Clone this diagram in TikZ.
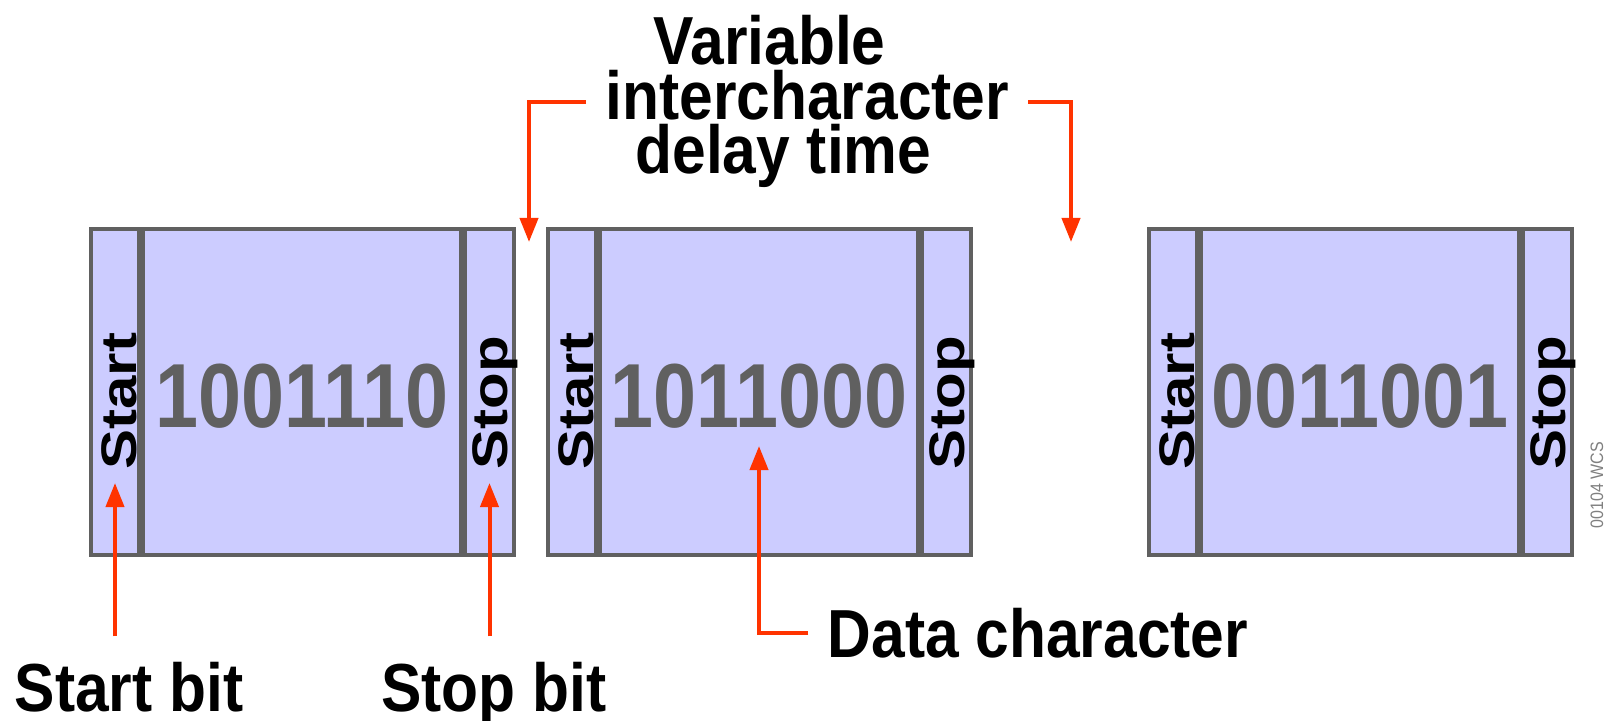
\documentclass[tikz,border=0pt]{standalone}
\usepackage{fontspec}
\usepackage{tikz}
\usetikzlibrary{positioning}
\usetikzlibrary{positioning, arrows.meta}

\newfontfamily\labelfont[FakeStretch=0.89]{Liberation Sans}
\newfontfamily\cellfont[FakeStretch=1.2]{Liberation Sans}
\newfontfamily\digitfont[FakeStretch=0.85]{Liberation Sans}

\definecolor{cellfill}{HTML}{CCCCFF}
\definecolor{cellline}{HTML}{606060}
\definecolor{sigred}{HTML}{FF3300}

\begin{document}
\begin{tikzpicture}[x=0.5pt, y=-0.5pt,
    cell/.style={draw=cellline, fill=cellfill, line width=2pt, inner sep=0pt, minimum height=163pt},
    bittext/.style={font=\cellfont\bfseries\fontsize{25pt}{25pt}\selectfont, rotate=90, anchor=base west, inner sep=0pt},
    digits/.style={font=\digitfont\bfseries\fontsize{45.5pt}{45.5pt}\selectfont, text=cellline, inner sep=0pt},
    caption/.style={font=\labelfont\bfseries\fontsize{34pt}{27.25pt}\selectfont, inner xsep=9.5pt, inner ysep=0pt},
    sig/.style={draw=sigred, line width=2pt, -{Triangle[width=9pt, length=12pt]}}]
    \useasboundingbox (0,0) rectangle (1606,721);

    % three characters: start bit, data bits, stop bit
    \foreach \L/\bits/\n in {89/1001110/1, 546/1011000/2, 1147/0011001/3}{
        \node[cell, minimum width=24pt] (start\n) at (\L+26,392) {};
        \node[cell, minimum width=159pt] (data\n) at (\L+213,392) {};
        \node[cell, minimum width=24.5pt] (stop\n) at (\L+400.5,392) {};
        \node[digits] (bits\n) at ([yshift=-2pt]data\n.center) {\bits};
        \node[bittext] (starttext\n) at (\L+47,470) {Start};
        \node[bittext] (stoptext\n) at (\L+418,470) {Stop};
    }

    \node[caption, align=left, anchor=north west] (delay) at (586,15)
        {\hspace*{24pt}Variable\\intercharacter\\\hspace*{15pt}delay time};
    \node[caption, anchor=base] (startbit) at (129,711) {Start bit};
    \node[caption, anchor=base] (stopbit) at (494,711) {Stop bit};
    \node[caption, anchor=base] (datachar) at (1038,657) {Data character};
    \node[font=\labelfont\fontsize{9pt}{9pt}\selectfont, text=gray, rotate=90, inner sep=0pt] (figid) at (1597,485) {00104 WCS};

    \coordinate (gap1) at (529,242);
    \coordinate (gap2) at (1071,242);

    \draw[sig] (delay.west) -| (gap1);
    \draw[sig] (delay.east) -| (gap2);
    \draw[sig] ([yshift=12.5pt]startbit.north -| start1.center) -- (start1.center |- 0,483);
    \draw[sig] ([yshift=12.5pt]stopbit.north -| stop1.center) -- (stop1.center |- 0,483);
    \draw[sig] (datachar.west) -| (data2.center |- 0,446);
\end{tikzpicture}
\end{document}
